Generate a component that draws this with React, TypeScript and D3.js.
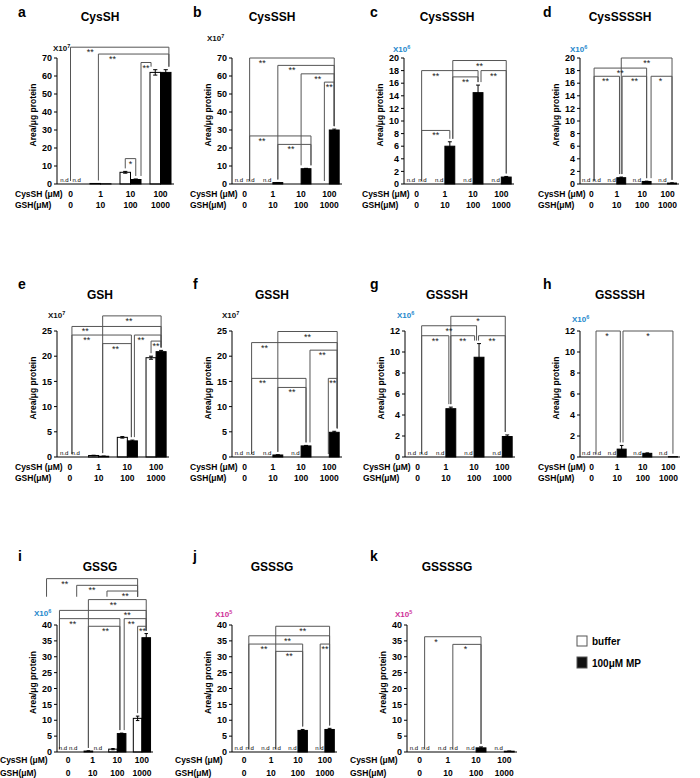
import React from 'react';
import * as d3 from 'd3';

const FONT = '"Liberation Sans", Arial, sans-serif';

const cysLabels = ['0', '1', '10', '100'];
const gshLabels = ['0', '10', '100', '1000'];

const ND = null; // "n.d" printed
const NONE = NaN; // nothing drawn

type Val = number | null;
// [group1, slot1, group2, slot2, height, label, labelPos, leftEnd?, rightEnd?]
type Bracket = [number, number, number, number, number, string, number, number?, number?];

// a CysSH
const aBuffer: Val[] = [ND, 0.3, 6.5, 62];
const aBufferErr = [0, 0, 0.5, 1.5];
const aMp: Val[] = [ND, 0.1, 2.5, 62];
const aMpErr = [0, 0, 0.3, 1.5];
const aBrackets: Bracket[] = [
  [0, 0.5, 3, 1.3, 76, '**', 0.2],
  [1, 0.3, 3, 1.3, 72.2, '**', 0.2],
  [2, 1.5, 3, -0.4, 67.5, '**', 0.5],
  [2, 0, 2, 1, 14.1, '*', 0.5],
];

// b CysSSH
const bBuffer: Val[] = [ND, ND, NONE, NONE];
const bBufferErr = [0, 0, 0, 0];
const bMp: Val[] = [ND, 0.8, 8.5, 30];
const bMpErr = [0, 0.05, 0.2, 0.5];
const bBrackets: Bracket[] = [
  [0, 1, 3, 1, 70, '**', 0.15],
  [1, 1, 3, 1, 65.9, '**', 0.25],
  [2, 0.5, 3, 1, 61.2, '**', 0.5],
  [3, 0, 3, 1, 56.6, '**', 0.5],
  [0, 1, 2, 1.5, 26.7, '**', 0.2],
  [1, 1, 2, 1.5, 22.0, '**', 0.4],
];

// c CysSSSH
const cBuffer: Val[] = [ND, ND, ND, ND];
const cBufferErr = [0, 0, 0, 0];
const cMp: Val[] = [ND, 6.0, 14.5, 1.1];
const cMpErr = [0, 0.7, 1.2, 0.1];
const cBrackets: Bracket[] = [
  [1, 1.3, 3, 1, 19.6, '**', 0.5],
  [0, 1, 2, 1, 18.0, '**', 0.25],
  [1, 1.3, 2, 1, 17.0, '**', 0.5],
  [2, 1.3, 3, 1, 18.0, '**', 0.5],
  [0, 1, 1, 1, 8.5, '**', 0.5],
];

// d CysSSSSH
const dBuffer: Val[] = [ND, ND, ND, ND];
const dBufferErr = [0, 0, 0, 0];
const dMp: Val[] = [ND, 1.0, 0.4, 0.15];
const dMpErr = [0, 0.1, 0.05, 0.03];
const dBrackets: Bracket[] = [
  [1, 1, 3, 1, 20, '**', 0.5],
  [0, 0.8, 2, 1, 18.4, '**', 0.5],
  [0, 0.8, 1, 0.8, 17.1, '**', 0.45],
  [1, 1.1, 2, 1, 17.1, '**', 0.5],
  [2, 1.5, 3, 1, 17.1, '*', 0.45],
];

// e GSH
const eBuffer: Val[] = [ND, 0.3, 3.9, 19.7];
const eBufferErr = [0, 0.05, 0.15, 0.3];
const eMp: Val[] = [ND, 0.15, 3.2, 20.9];
const eMpErr = [0, 0.03, 0.15, 0.25];
const eBrackets: Bracket[] = [
  [1, 0.9, 3, 1, 28, '**', 0.45],
  [0, 0.7, 3, 1, 25.9, '**', 0.15],
  [0, 0.7, 2, 0.9, 24.2, '**', 0.25],
  [1, 0.9, 2, 0.9, 22.5, '**', 0.45],
  [2, 1.2, 3, 1, 24.2, '**', 0.25],
  [3, 0, 3, 1, 23, '**', 0.5],
];

// f GSSH
const fBuffer: Val[] = [ND, ND, ND, NONE];
const fBufferErr = [0, 0, 0, 0];
const fMp: Val[] = [ND, 0.4, 2.2, 4.9];
const fMpErr = [0, 0.03, 0.1, 0.2];
const fBrackets: Bracket[] = [
  [1, 1, 3, 1.3, 24.9, '**', 0.5],
  [0, 1.2, 3, 1.3, 22.7, '**', 0.15],
  [2, 1.4, 3, 1.3, 21.2, '**', 0.45],
  [0, 1.2, 2, 1, 15.6, '**', 0.2],
  [1, 1, 2, 1, 13.8, '**', 0.5],
  [3, 0.4, 3, 1.3, 15.6, '**', 0.5],
];

// g GSSSH
const gBuffer: Val[] = [ND, ND, ND, ND];
const gBufferErr = [0, 0, 0, 0];
const gMp: Val[] = [ND, 4.6, 9.5, 1.95];
const gMpErr = [0, 0.15, 1.3, 0.15];
const gBrackets: Bracket[] = [
  [1, 1, 3, 0.8, 13.4, '*', 0.5],
  [0, 0.9, 2, 0.75, 12.5, '**', 0.5],
  [0, 0.9, 1, 0.8, 11.55, '**', 0.5],
  [1, 1, 2, 0.55, 11.55, '**', 0.5],
  [2, 0.95, 3, 0.8, 11.55, '**', 0.5],
];

// h GSSSSH
const hBuffer: Val[] = [ND, ND, ND, ND];
const hBufferErr = [0, 0, 0, 0];
const hMp: Val[] = [ND, 0.75, 0.35, 0.03];
const hMpErr = [0, 0.35, 0.04, 0];
const hBrackets: Bracket[] = [
  [0, 1, 1, 0.85, 12, '*', 0.45],
  [1, 1.15, 3, 1, 12, '*', 0.5],
];

// i GSSG
const iBuffer: Val[] = [ND, 0.3, 0.9, 10.6];
const iBufferErr = [0, 0.05, 0.2, 0.7];
const iMp: Val[] = [ND, ND, 5.8, 36];
const iMpErr = [0, 0, 0.15, 1.3];
const iBrackets: Bracket[] = [
  [0, -2, 3, 0, 54.6, '**', 0.2, 48.9, 48.9],
  [0, 1.5, 3, 0, 52.5, '**', 0.25, 48.9, 48.9],
  [2, -0.7, 3, 0, 50.7, '**', 0.6, 48.9, 48.9],
  [1, 0, 3, 1, 48.0, '**', 0.43],
  [0, -0.5, 3, 1, 44.6, '**', 0.78],
  [0, -0.5, 2, 0.8, 42.0, '**', 0.22],
  [2, 1.3, 3, 1, 42.0, '**', 0.32],
  [1, 0, 2, 0.8, 39.6, '**', 0.54],
  [3, 0, 3, 1, 39.6, '**', 0.57],
];

// j GSSSG
const jBuffer: Val[] = [ND, ND, ND, ND];
const jBufferErr = [0, 0, 0, 0];
const jMp: Val[] = [ND, ND, 6.8, 7.1];
const jMpErr = [0, 0, 0.3, 0.35];
const jBrackets: Bracket[] = [
  [1, 1, 3, 1, 39.6, '**', 0.5],
  [0, 1, 3, 1, 36.6, '**', 0.48],
  [0, 1, 2, 1, 34.0, '**', 0.28],
  [1, 1, 2, 1, 31.7, '**', 0.5],
  [3, 0, 3, 1, 34.0, '**', 0.5],
];

// k GSSSSG
const kBuffer: Val[] = [ND, ND, ND, ND];
const kBufferErr = [0, 0, 0, 0];
const kMp: Val[] = [ND, ND, 1.3, 0.25];
const kMpErr = [0, 0, 0.3, 0.05];
const kBrackets: Bracket[] = [
  [0, 1, 2, 1, 36.3, '*', 0.2],
  [1, 1, 2, 1, 33.9, '*', 0.45],
];

const rowTop = [58, 331, 625];
const rowBase = [184, 457, 752];
const rowLetter = [17, 289, 561];
const rowTitle = [21, 299, 571];
const rowCys = [197, 470, 763];
const rowGsh = [208, 481, 776];
const rowLabelDx = [-42, -42, -57];
const colLetter = [18, 193, 370, 543];
const colTitle = [100, 272, 447, 620];

const expColor: Record<string, string> = { '7': '#111', '6': '#1e88cc', '5': '#cf2f98' };

interface PanelDef {
  id: string; title: string; row: number; col: number;
  x: number; w: number; yMax: number; yStep: number;
  exp: string; expDx: number; expDy: number;
  buffer: Val[]; bufferErr: number[]; mp: Val[]; mpErr: number[];
  brackets: Bracket[];
}

const panels: PanelDef[] = [
  { id: 'a', title: 'CysSH', row: 0, col: 0, x: 57, w: 117, yMax: 70, yStep: 10, exp: '7', expDx: -4, expDy: -7, buffer: aBuffer, bufferErr: aBufferErr, mp: aMp, mpErr: aMpErr, brackets: aBrackets },
  { id: 'b', title: 'CysSSH', row: 0, col: 1, x: 232, w: 110, yMax: 70, yStep: 10, exp: '7', expDx: -25, expDy: -17, buffer: bBuffer, bufferErr: bBufferErr, mp: bMp, mpErr: bMpErr, brackets: bBrackets },
  { id: 'c', title: 'CysSSSH', row: 0, col: 2, x: 404, w: 110, yMax: 20, yStep: 2, exp: '6', expDx: -11, expDy: -6, buffer: cBuffer, bufferErr: cBufferErr, mp: cMp, mpErr: cMpErr, brackets: cBrackets },
  { id: 'd', title: 'CysSSSSH', row: 0, col: 3, x: 580, w: 99, yMax: 20, yStep: 2, exp: '6', expDx: -10, expDy: -6, buffer: dBuffer, bufferErr: dBufferErr, mp: dMp, mpErr: dMpErr, brackets: dBrackets },
  { id: 'e', title: 'GSH', row: 1, col: 0, x: 57, w: 112, yMax: 25, yStep: 5, exp: '7', expDx: -9, expDy: -13, buffer: eBuffer, bufferErr: eBufferErr, mp: eMp, mpErr: eMpErr, brackets: eBrackets },
  { id: 'f', title: 'GSSH', row: 1, col: 1, x: 232, w: 110, yMax: 25, yStep: 5, exp: '7', expDx: -10, expDy: -13, buffer: fBuffer, bufferErr: fBufferErr, mp: fMp, mpErr: fMpErr, brackets: fBrackets },
  { id: 'g', title: 'GSSSH', row: 1, col: 2, x: 405, w: 110, yMax: 12, yStep: 2, exp: '6', expDx: -8, expDy: -13, buffer: gBuffer, bufferErr: gBufferErr, mp: gMp, mpErr: gMpErr, brackets: gBrackets },
  { id: 'h', title: 'GSSSSH', row: 1, col: 3, x: 580, w: 100, yMax: 12, yStep: 2, exp: '6', expDx: -8, expDy: -9, buffer: hBuffer, bufferErr: hBufferErr, mp: hMp, mpErr: hMpErr, brackets: hBrackets },
  { id: 'i', title: 'GSSG', row: 2, col: 0, x: 57, w: 96, yMax: 40, yStep: 5, exp: '6', expDx: -23, expDy: -9, buffer: iBuffer, bufferErr: iBufferErr, mp: iMp, mpErr: iMpErr, brackets: iBrackets },
  { id: 'j', title: 'GSSSG', row: 2, col: 1, x: 232, w: 105, yMax: 40, yStep: 5, exp: '5', expDx: -17, expDy: -8, buffer: jBuffer, bufferErr: jBufferErr, mp: jMp, mpErr: jMpErr, brackets: jBrackets },
  { id: 'k', title: 'GSSSSG', row: 2, col: 2, x: 407, w: 110, yMax: 40, yStep: 5, exp: '5', expDx: -12, expDy: -8, buffer: kBuffer, bufferErr: kBufferErr, mp: kMp, mpErr: kMpErr, brackets: kBrackets },
];

const Panel: React.FC<{ p: PanelDef }> = ({ p }) => {
  const top = rowTop[p.row];
  const base = rowBase[p.row];
  const y = d3.scaleLinear().domain([0, p.yMax]).range([base, top]);
  const x0 = d3.scaleBand<number>().domain([0, 1, 2, 3]).range([p.x, p.x + p.w]).paddingInner(0.3).paddingOuter(0.1);
  const x1 = d3.scaleBand<number>().domain([0, 1]).range([0, x0.bandwidth()]);
  const bw = x1.bandwidth();
  const pos = (g: number, s: number) => (x0(g) as number) + (s + 0.5) * bw;
  const ticks = d3.range(0, p.yMax + 1e-6, p.yStep);
  const series = [
    { vals: p.buffer, errs: p.bufferErr, fill: '#fff' },
    { vals: p.mp, errs: p.mpErr, fill: '#000' },
  ];
  const topOf = (g: number, s: number) => {
    const idx = s < 0.5 ? [0] : s > 0.5 ? [1] : [0, 1];
    let m = 0;
    idx.forEach(i => {
      const v = series[i].vals[g];
      if (typeof v === 'number' && !isNaN(v)) m = Math.max(m, v + series[i].errs[g]);
    });
    return m;
  };
  const legEnd = (g: number, s: number, v?: number) => (v !== undefined ? y(v) : y(topOf(g, s)) - 3);
  const lx = p.x + rowLabelDx[p.row];

  return (
    <g fontFamily={FONT}>
      <text x={colLetter[p.col]} y={rowLetter[p.row]} fontSize={14} fontWeight="bold">{p.id}</text>
      <text x={colTitle[p.col]} y={rowTitle[p.row]} fontSize={12} fontWeight="bold" textAnchor="middle">{p.title}</text>
      <text x={p.x + p.expDx} y={top + p.expDy} fontSize={8} fontWeight="bold" fill={expColor[p.exp]}>
        X10<tspan fontSize={5.5} dy={-3}>{p.exp}</tspan>
      </text>
      <text transform={`translate(${p.x - 21},${(top + base) / 2 - 6}) rotate(-90)`} fontSize={8.5} fontWeight="bold" textAnchor="middle">
        Area/μg protein
      </text>
      {/* brackets */}
      {p.brackets.map((b, i) => {
        const [g1, s1, g2, s2, h, lab, t, e1, e2] = b;
        const xa = pos(g1, s1);
        const xb = pos(g2, s2);
        const yh = y(h);
        return (
          <g key={'br' + i}>
            <path d={`M${xa},${legEnd(g1, s1, e1)}V${yh}H${xb}V${legEnd(g2, s2, e2)}`} fill="none" stroke="#555" strokeWidth={1} />
            <text x={xa + (xb - xa) * t} y={yh + 8} fontSize={9} textAnchor="middle" fill="#222">{lab}</text>
          </g>
        );
      })}
      {/* bars */}
      {[0, 1, 2, 3].map(g => series.map((sr, si) => {
        const v = sr.vals[g];
        const cx = pos(g, si);
        if (v === null) {
          return <text key={`nd${g}${si}`} x={cx + (si === 0 ? -0.8 : 0.8)} y={base - 2} fontSize={6} textAnchor="middle">n.d</text>;
        }
        if (isNaN(v)) return null;
        const e = sr.errs[g];
        const xl = (x0(g) as number) + (x1(si) as number);
        return (
          <g key={`bar${g}${si}`}>
            <rect x={xl} y={y(v)} width={bw} height={base - y(v)} fill={sr.fill} stroke="#000" strokeWidth={1} />
            {e > 0 && (
              <path d={`M${cx},${y(v - e)}V${y(v + e)}M${cx - bw * 0.2},${y(v + e)}H${cx + bw * 0.2}M${cx - bw * 0.2},${y(v - e)}H${cx + bw * 0.2}`}
                stroke="#000" strokeWidth={1} fill="none" />
            )}
          </g>
        );
      }))}
      {/* axes */}
      <line x1={p.x} x2={p.x} y1={base} y2={top} stroke="#000" />
      <line x1={p.x} x2={p.x + p.w} y1={base} y2={base} stroke="#000" />
      {ticks.map(t => (
        <g key={'t' + t}>
          <line x1={p.x - 3} x2={p.x} y1={y(t)} y2={y(t)} stroke="#000" />
          <text x={p.x - 5} y={y(t)} dy="0.35em" fontSize={9} fontWeight="bold" textAnchor="end">{t}</text>
        </g>
      ))}
      <text x={lx} y={rowCys[p.row]} fontSize={8.5} fontWeight="bold">CysSH (μM)</text>
      <text x={lx} y={rowGsh[p.row]} fontSize={8.5} fontWeight="bold">GSH(μM)</text>
      {cysLabels.map((l, g) => (
        <text key={'c' + l} x={pos(g, 0.5)} y={rowCys[p.row]} fontSize={8.5} fontWeight="bold" textAnchor="middle">{l}</text>
      ))}
      {gshLabels.map((l, g) => (
        <text key={'g' + l} x={pos(g, 0.5)} y={rowGsh[p.row]} fontSize={8.5} fontWeight="bold" textAnchor="middle">{l}</text>
      ))}
    </g>
  );
};

export default function App() {
  return (
    <svg width={700} height={778} style={{ position: 'absolute', left: 0, top: 0, background: '#fff' }}>
      <rect width={700} height={778} fill="#fff" />
      {panels.map(p => <Panel key={p.id} p={p} />)}
      <g fontFamily={FONT} fontWeight="bold" fontSize={10}>
        <rect x={577} y={636} width={10} height={10} fill="#fff" stroke="#555" />
        <text x={592} y={645}>buffer</text>
        <rect x={577} y={657} width={10} height={11} fill="#111" stroke="#555" />
        <text x={592} y={667}>100μM MP</text>
      </g>
    </svg>
  );
}
